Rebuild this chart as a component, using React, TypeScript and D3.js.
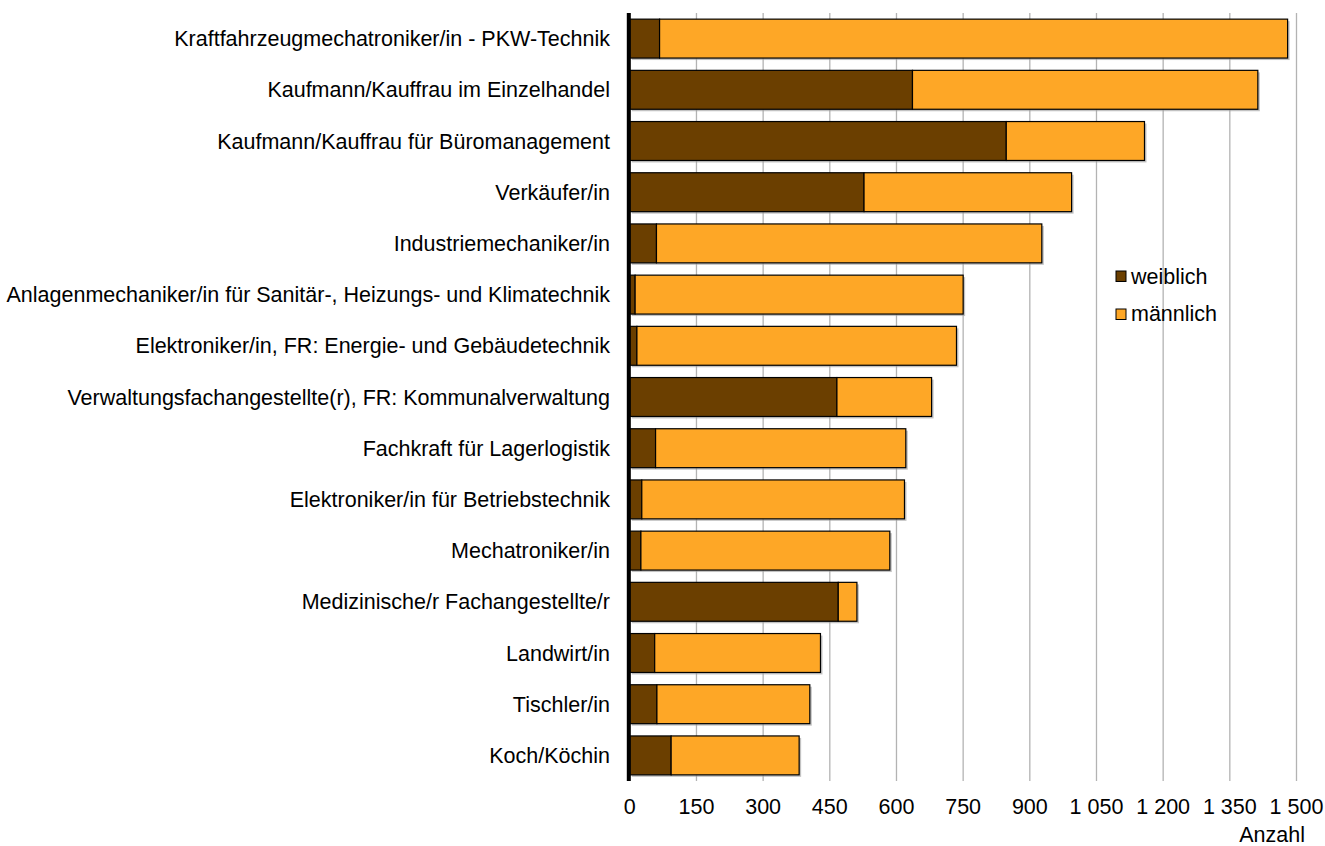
import React from "react";
import * as d3 from "d3";

const categories = [
  "Kraftfahrzeugmechatroniker/in - PKW-Technik",
  "Kaufmann/Kauffrau im Einzelhandel",
  "Kaufmann/Kauffrau für Büromanagement",
  "Verkäufer/in",
  "Industriemechaniker/in",
  "Anlagenmechaniker/in für Sanitär-, Heizungs- und Klimatechnik",
  "Elektroniker/in, FR: Energie- und Gebäudetechnik",
  "Verwaltungsfachangestellte(r), FR: Kommunalverwaltung",
  "Fachkraft für Lagerlogistik",
  "Elektroniker/in für Betriebstechnik",
  "Mechatroniker/in",
  "Medizinische/r Fachangestellte/r",
  "Landwirt/in",
  "Tischler/in",
  "Koch/Köchin",
];
const weiblich = [67, 636, 847, 527, 60, 12, 16, 466, 58, 27, 25, 469, 56, 61, 93];
const maennlich = [1413, 777, 311, 467, 867, 738, 719, 213, 563, 591, 560, 42, 373, 344, 288];
const ticks = [0, 150, 300, 450, 600, 750, 900, 1050, 1200, 1350, 1500];
const seriesNames = ["weiblich", "männlich"];
const colors = ["#6b3f00", "#fea726"];

const fmt = (v: number) => {
  const s = String(v);
  return s.length > 3 ? s.slice(0, s.length - 3) + " " + s.slice(-3) : s;
};

export default function App() {
  const W = 1325, H = 846;
  const x = d3.scaleLinear().domain([0, 1500]).range([629.8, 1296.5]);
  const y = d3.scaleBand<string>().domain(categories).range([13, 781]).paddingInner(0.24).paddingOuter(0.12);
  const font = "'Liberation Sans', Arial, sans-serif";
  const fs = 21.5;
  return (
    <svg width={W} height={H} style={{ position: "absolute", left: 0, top: 0 }} fontFamily={font}>
      <rect width={W} height={H} fill="#fff" />
      {ticks.map((t) => (
        <line key={"g" + t} x1={x(t)} x2={x(t)} y1={13} y2={781} stroke="#b3b3b3" strokeWidth={1.3} />
      ))}
      {categories.map((c, i) => {
        const y0 = y(c)!;
        const h = y.bandwidth();
        const w0 = x(weiblich[i]) - x(0);
        const tot = x(weiblich[i] + maennlich[i]);
        return (
          <g key={c}>
            <rect x={x(0) + 2} y={y0 + 2} width={tot - x(0)} height={h} fill="#999" opacity={0.6} />
            <rect x={x(0)} y={y0} width={w0} height={h} fill={colors[0]} stroke="#000" strokeWidth={1.2} />
            <rect x={x(weiblich[i])} y={y0} width={tot - x(weiblich[i])} height={h} fill={colors[1]} stroke="#000" strokeWidth={1.2} />
            <text x={610} y={y0 + h / 2} dy="0.35em" textAnchor="end" fontSize={fs} fill="#000">{c}</text>
          </g>
        );
      })}
      <line x1={x(0) - 1} x2={x(0) - 1} y1={13} y2={781} stroke="#000" strokeWidth={4} />
      {ticks.map((t) => (
        <text key={"t" + t} x={x(t)} y={806.5} dy="0.35em" textAnchor="middle" fontSize={fs} fill="#000">{fmt(t)}</text>
      ))}
      <text x={1305} y={834} dy="0.35em" textAnchor="end" fontSize={fs} fill="#000">Anzahl</text>
      {seriesNames.map((s, i) => (
        <g key={s}>
          <rect x={1116} y={271 + i * 38} width={10} height={10.5} fill={colors[i]} stroke="#000" strokeWidth={1} />
          <text x={1131} y={276 + i * 37.5} dy="0.35em" fontSize={fs} fill="#000">{s}</text>
        </g>
      ))}
    </svg>
  );
}
